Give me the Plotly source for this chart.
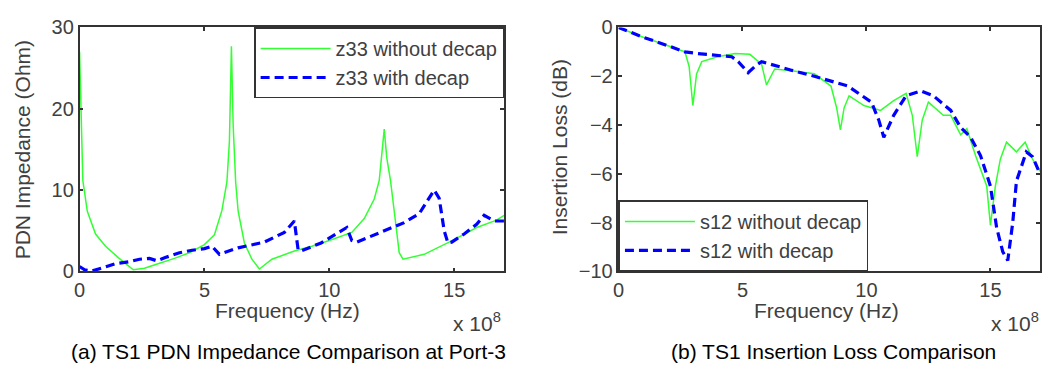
import plotly.graph_objects as go

# ---- data (frequency in units of 1e8 Hz) ----
z33_nodecap_f = [0, 0.05, 0.13, 0.31, 0.64, 1.04, 1.55, 2.15, 2.6, 3.2, 3.8, 4.4, 5.0, 5.4, 5.7, 5.9, 6.0, 6.08,
                 6.15, 6.25, 6.35, 6.6, 6.9, 7.2, 7.7, 8.6, 9.3, 10.0, 10.9, 11.4, 11.8, 12.0, 12.1, 12.2, 12.3,
                 12.45, 12.6, 12.8, 12.95, 13.8, 15.0, 15.9, 16.7, 17.0]
z33_nodecap = [27, 20, 11.2, 7.4, 4.6, 3.1, 1.7, 0.2, 0.4, 1.0, 1.6, 2.3, 3.3, 4.5, 7.5, 11, 16, 27.7,
               18, 11, 7.4, 3.5, 1.5, 0.3, 1.5, 2.5, 3.1, 3.8, 4.8, 6.5, 8.9, 11.2, 14, 17.5, 14,
               11.2, 7.4, 2.3, 1.5, 2.1, 3.9, 5.4, 6.3, 6.9]

z33_decap_f = [0, 0.2, 0.5, 1.0, 1.45, 2.0, 2.4, 2.8, 3.1, 3.43, 4.0, 4.5, 5.0, 5.3, 5.6, 6.35, 7.4, 8.2, 8.6,
               8.75, 8.85, 9.67, 10.7, 10.9, 11.1, 12.2, 13.0, 13.6, 13.9, 14.2, 14.4, 14.6, 14.75, 14.9, 15.4,
               15.9, 16.2, 16.6, 17.0]
z33_decap = [0.6, 0.2, 0.05, 0.5, 0.95, 1.2, 1.5, 1.6, 1.3, 1.7, 2.3, 2.6, 2.8, 3.1, 2.1, 2.9, 3.6, 4.8, 6.2,
             2.7, 2.5, 3.5, 5.4, 3.8, 3.6, 5.0, 6.0, 7.1, 8.5, 10.0, 9.0, 5.0, 3.5, 3.6, 4.6,
             5.8, 6.9, 6.2, 6.2]

s12_nodecap_f = [0, 1.0, 2.0, 2.68, 2.85, 3.0, 3.15, 3.36, 4.0, 4.7, 5.3, 5.77, 5.97, 6.3, 6.97, 7.9, 8.57,
                 8.8, 8.95, 9.1, 9.3, 9.9, 10.57, 11.1, 11.6, 11.85, 12.05, 12.25, 12.5, 13.1, 13.4, 13.8,
                 14.05, 14.4, 14.85, 15.0, 15.2, 15.4, 15.65, 16.05, 16.4, 16.7, 17.0]
s12_nodecap = [0, -0.4, -0.75, -1.0, -1.6, -3.2, -1.9, -1.4, -1.2, -1.07, -1.1, -1.5, -2.35, -1.7, -1.77,
               -1.9, -2.4, -3.3, -4.2, -3.3, -2.8, -3.2, -3.4, -3.0, -2.7, -3.6, -5.3, -3.8, -3.06, -3.6,
               -3.6, -4.4, -4.15, -5.25, -6.5, -8.1, -6.5, -5.4, -4.7, -5.1, -4.7, -5.4, -5.9]

s12_decap_f = [0, 1.0, 2.0, 2.68, 3.2, 4.0, 4.57, 4.83, 5.23, 5.5, 5.77, 6.97, 7.9, 9.25, 10.2, 10.5, 10.7,
               11.1, 11.6, 12.2, 12.7, 13.4, 13.8, 14.2, 14.6, 15.0, 15.25, 15.5, 15.7, 15.9, 16.05, 16.45,
               16.7, 17.0]
s12_decap = [0, -0.4, -0.75, -1.0, -1.07, -1.15, -1.2, -1.4, -1.85, -1.6, -1.4, -1.75, -2.0, -2.4, -3.06,
             -3.8, -4.5, -3.6, -2.8, -2.6, -2.8, -3.4, -4.1, -4.5, -5.25, -6.5, -8.2, -9.2, -9.55, -8.0,
             -6.3, -5.1, -5.3, -6.0]

x_ticks = [0, 5, 10, 15]
y1_ticks = [0, 10, 20, 30]
y2_ticks = [0, -2, -4, -6, -8, -10]

GREEN = "#33ff33"
BLUE = "#0000ff"
TXT = "#404040"
AX = "#333333"
FONT = "Arial, Liberation Sans, sans-serif"
W, H = 1042, 378
FS = 21

fig = go.Figure()
fig.add_trace(go.Scatter(x=z33_nodecap_f, y=z33_nodecap, mode="lines", name="z33 without decap",
                         line=dict(color=GREEN, width=1.5), xaxis="x", yaxis="y", legend="legend"))
fig.add_trace(go.Scatter(x=z33_decap_f, y=z33_decap, mode="lines", name="z33 with decap",
                         line=dict(color=BLUE, width=3.2, dash="9px,5px"), xaxis="x", yaxis="y", legend="legend"))
fig.add_trace(go.Scatter(x=s12_nodecap_f, y=s12_nodecap, mode="lines", name="s12 without decap",
                         line=dict(color=GREEN, width=1.5), xaxis="x2", yaxis="y2", legend="legend2"))
fig.add_trace(go.Scatter(x=s12_decap_f, y=s12_decap, mode="lines", name="s12 with decap",
                         line=dict(color=BLUE, width=3.2, dash="9px,5px"), xaxis="x2", yaxis="y2", legend="legend2"))

dx1 = [74 / W, 501 / W]
dx2 = [616 / W, 1040 / W]
dy = [1 - 276.5 / H, 1 - 17.5 / H]

axis_common = dict(showline=True, linecolor=AX, linewidth=1.5, mirror="ticks", ticks="inside",
                   ticklen=4, tickcolor=AX, tickwidth=1.5, showgrid=False, zeroline=False,
                   tickfont=dict(family=FONT, size=20, color=TXT))

leg_common = dict(bordercolor=AX, borderwidth=1.5, bgcolor="white",
                  font=dict(family=FONT, size=20, color=TXT), itemwidth=70, tracegroupgap=0)

fig.update_layout(
    width=W, height=H, margin=dict(l=0, r=0, t=0, b=0),
    paper_bgcolor="white", plot_bgcolor="white",
    font=dict(family=FONT, size=FS, color=TXT),
    xaxis=dict(domain=dx1, range=[0, 17], tickvals=x_ticks, anchor="y", **axis_common),
    yaxis=dict(domain=dy, range=[0, 30], tickvals=y1_ticks, anchor="x", **axis_common),
    xaxis2=dict(domain=dx2, range=[0, 17], tickvals=x_ticks, anchor="y2", **axis_common),
    yaxis2=dict(domain=dy, range=[-10, 0], tickvals=y2_ticks, anchor="x2", **axis_common),
    legend=dict(x=dx1[1], y=dy[1], xanchor="right", yanchor="top", **leg_common),
    legend2=dict(x=dx2[0], y=dy[0], xanchor="left", yanchor="bottom", **leg_common),
    showlegend=True,
)

ann = []
# axis titles
for xc, yc, txt, ang in [(283, 318, "Frequency (Hz)", 0), (825, 318, "Frequency (Hz)", 0),
                         (17, 147, "PDN Impedance (Ohm)", -90), (557, 145, "Insertion Loss (dB)", -90)]:
    ann.append(dict(text=txt, x=xc / W, y=1 - yc / H, xref="paper", yref="paper", showarrow=False,
                    xanchor="center", yanchor="middle", textangle=ang, font=dict(size=FS, color=TXT)))
# exponent labels
for xr in [500, 1041]:
    ann.append(dict(text="x 10<sup>8</sup>", x=xr / W, y=1 - 330 / H, xref="paper", yref="paper",
                    showarrow=False, xanchor="right", yanchor="middle", font=dict(size=FS, color=TXT)))
# captions
ann.append(dict(text="(a) TS1 PDN Impedance Comparison at Port-3", x=284 / W, y=1 - 362 / H,
                xref="paper", yref="paper", showarrow=False, xanchor="center", yanchor="middle",
                font=dict(size=FS, color="#000000")))
ann.append(dict(text="(b) TS1 Insertion Loss Comparison", x=832 / W, y=1 - 362 / H,
                xref="paper", yref="paper", showarrow=False, xanchor="center", yanchor="middle",
                font=dict(size=FS, color="#000000")))
fig.update_layout(annotations=ann)

fig.write_html("out.html")
